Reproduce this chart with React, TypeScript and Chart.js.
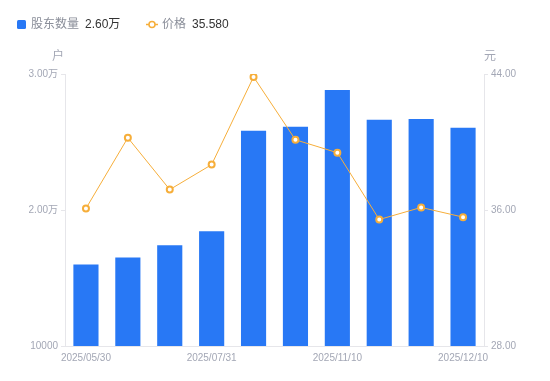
import React, { useEffect, useRef } from "react";
import { Chart, registerables } from "chart.js";

Chart.register(...registerables);

const categories = [
  "2025/05/30", "2025/06/30", "2025/07/10", "2025/07/31", "2025/08/31",
  "2025/09/30", "2025/11/10", "2025/11/20", "2025/11/30", "2025/12/10",
];
const holders = [16000, 16500, 17400, 18430, 25820, 26120, 28830, 26630, 26700, 26040];
const prices = [36.09, 40.25, 37.2, 38.67, 43.83, 40.13, 39.37, 35.44, 36.15, 35.58];
const leftTicks = [10000, 20000, 30000];
const rightTicks = [28, 36, 44];

const BLUE = "#2878F5";
const ORANGE = "#F6AE3A";
const TICK = "#A3A7B5";
const AXIS = "#E6E6EA";
const FONT = "'Liberation Sans', 'Noto Sans CJK SC', sans-serif";

const fmtLeft = (v: number) => (v >= 20000 ? (v / 10000).toFixed(2) + "万" : String(v));

const overlay = {
  id: "overlay",
  afterDraw(chart: any) {
    const ctx = chart.ctx as CanvasRenderingContext2D;
    ctx.save();
    ctx.textBaseline = "middle";
    ctx.font = `12px ${FONT}`;
    ctx.fillStyle = TICK;
    ctx.textAlign = "center";
    ctx.fillText("户", 58, 57);
    ctx.fillText("元", 490, 57);

    // legend
    ctx.textAlign = "left";
    ctx.fillStyle = BLUE;
    ctx.beginPath();
    ctx.roundRect(17, 20, 9, 9, 1.5);
    ctx.fill();
    ctx.font = `12px ${FONT}`;
    ctx.fillStyle = "#8A8E99";
    ctx.fillText("股东数量", 31, 24.5);
    ctx.fillStyle = "#333333";
    ctx.font = `12px ${FONT}`;
    ctx.fillText(fmtLeft(holders[holders.length - 1]), 85, 24.5);

    ctx.strokeStyle = ORANGE;
    ctx.lineWidth = 1.5;
    ctx.beginPath();
    ctx.moveTo(146, 24.5);
    ctx.lineTo(158, 24.5);
    ctx.stroke();
    ctx.fillStyle = "#fff";
    ctx.beginPath();
    ctx.arc(152, 24.5, 3, 0, Math.PI * 2);
    ctx.fill();
    ctx.stroke();
    ctx.font = `12px ${FONT}`;
    ctx.fillStyle = "#8A8E99";
    ctx.fillText("价格", 162, 24.5);
    ctx.fillStyle = "#333333";
    ctx.font = `12px ${FONT}`;
    ctx.fillText(prices[prices.length - 1].toFixed(3), 192, 24.5);
    ctx.restore();
  },
};

export default function App() {
  const ref = useRef<HTMLCanvasElement>(null);
  useEffect(() => {
    if (!ref.current) return;
    const chart = new Chart(ref.current, {
      data: {
        labels: categories,
        datasets: [
          {
            type: "line",
            label: "价格",
            data: prices,
            yAxisID: "y1",
            borderColor: ORANGE,
            borderWidth: 1,
            backgroundColor: "#fff",
            pointBackgroundColor: "#fff",
            pointBorderColor: ORANGE,
            pointBorderWidth: 2,
            pointRadius: 3,
            tension: 0,
            order: 0,
          },
          {
            type: "bar",
            label: "股东数量",
            data: holders,
            yAxisID: "y",
            backgroundColor: BLUE,
            categoryPercentage: 0.6,
            barPercentage: 1,
            order: 1,
          },
        ],
      } as any,
      options: {
        responsive: false,
        animation: false,
        layout: { padding: { top: 74, left: 0, right: 0, bottom: 0 } },
        plugins: { legend: { display: false }, tooltip: { enabled: false } },
        scales: {
          x: {
            grid: { display: false, drawTicks: false },
            border: { display: true, color: AXIS },
            ticks: {
              autoSkip: false,
              maxRotation: 0,
              color: TICK,
              font: { size: 10, family: FONT },
              padding: 6,
              callback: (_v: any, i: number) => (i % 3 === 0 ? categories[i] : ""),
            },
            afterFit: (s: any) => { s.height = 35; },
          },
          y: {
            position: "left",
            min: 10000,
            max: 30000,
            afterBuildTicks: (s: any) => { s.ticks = leftTicks.map((v) => ({ value: v })); },
            grid: { drawOnChartArea: false, drawTicks: true, tickLength: 4, color: AXIS },
            border: { display: true, color: AXIS },
            ticks: { color: TICK, font: { size: 10, family: FONT }, padding: 3, callback: (v: any) => fmtLeft(Number(v)) },
            afterFit: (s: any) => { s.width = 65; },
          },
          y1: {
            position: "right",
            min: 28,
            max: 44,
            afterBuildTicks: (s: any) => { s.ticks = rightTicks.map((v) => ({ value: v })); },
            grid: { drawOnChartArea: false, drawTicks: true, tickLength: 4, color: AXIS },
            border: { display: true, color: AXIS },
            ticks: { color: TICK, font: { size: 10, family: FONT }, padding: 3, callback: (v: any) => Number(v).toFixed(2) },
            afterFit: (s: any) => { s.width = 66; },
          },
        },
      } as any,
      plugins: [overlay],
    });
    return () => chart.destroy();
  }, []);
  return (
    <div style={{ position: "fixed", left: 0, top: 0, width: 550, height: 381, background: "#fff" }}>
      <canvas ref={ref} width={550} height={381} style={{ display: "block" }} />
    </div>
  );
}
